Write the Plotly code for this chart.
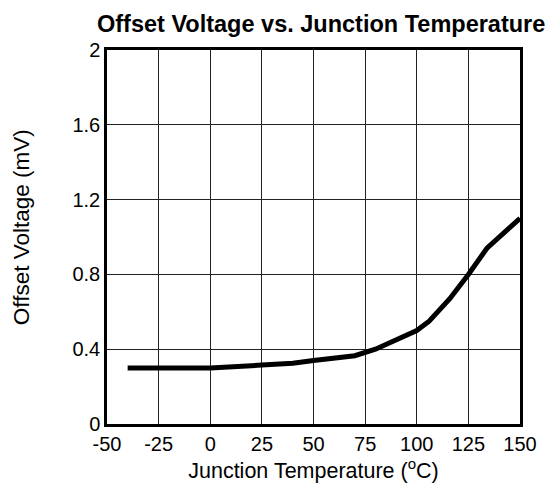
import plotly.graph_objects as go

temp_c = [-40, -25, 0, 25, 40, 50, 60, 70, 80, 90, 100, 106, 116, 125, 134, 143, 150]
offset_mv = [0.30, 0.30, 0.30, 0.315, 0.325, 0.34, 0.352, 0.365, 0.40, 0.45, 0.50, 0.55, 0.67, 0.80, 0.94, 1.03, 1.10]

x_ticks = [-50, -25, 0, 25, 50, 75, 100, 125, 150]
y_ticks = [0, 0.4, 0.8, 1.2, 1.6, 2]
y_tick_labels = ["0", "0.4", "0.8", "1.2", "1.6", "2"]

font = "Liberation Sans, Arial, sans-serif"

fig = go.Figure()
fig.add_trace(go.Scatter(x=temp_c, y=offset_mv, mode="lines",
                         line=dict(color="black", width=5), showlegend=False))

fig.update_layout(
    width=549, height=487,
    margin=dict(l=107, r=25, t=50, b=60),
    paper_bgcolor="white", plot_bgcolor="white",
    font=dict(family=font, size=19, color="black"),
    title=dict(text="<b>Offset Voltage vs. Junction Temperature</b>",
               x=0.585, xanchor="center", y=0.952, yanchor="middle",
               font=dict(family=font, size=23.5, color="black")),
    annotations=[dict(text="Offset Voltage (mV)", textangle=-90,
                      xref="paper", yref="paper", x=-0.207, y=0.525,
                      xanchor="center", yanchor="middle", showarrow=False,
                      font=dict(family=font, size=22.5, color="black"))],
)
fig.update_xaxes(range=[-50, 150], tickvals=x_ticks, ticktext=[str(v) for v in x_ticks],
                 showgrid=True, gridcolor="#222222", gridwidth=1,
                 showline=True, linecolor="black", linewidth=2.5, mirror=True,
                 ticks="", zeroline=False, tickfont=dict(size=20),
                 title=dict(text="Junction Temperature (<sup>o</sup>C)", standoff=5,
                            font=dict(size=21.5)))
fig.update_yaxes(range=[0, 2], tickvals=y_ticks, ticktext=y_tick_labels,
                 showgrid=True, gridcolor="#222222", gridwidth=1,
                 showline=True, linecolor="black", linewidth=2.5, mirror=True,
                 ticks="", zeroline=False, tickfont=dict(size=20))

fig.write_html("out.html", config={"displayModeBar": False},
               post_script="document.body.style.margin='0';")
